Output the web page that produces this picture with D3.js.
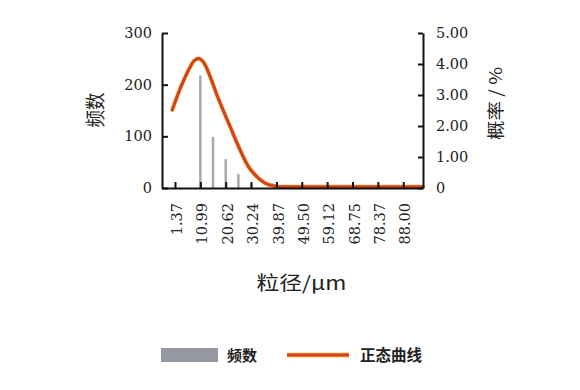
<!DOCTYPE html>
<html><head><meta charset="utf-8">
<script src="https://cdn.jsdelivr.net/npm/d3@7"></script>
<style>body{margin:0;background:#fff}</style>
</head><body>
<svg id="c" width="580" height="390"></svg>
<script>
const xTickValues = [1.37, 10.99, 20.62, 30.24, 39.87, 49.50, 59.12, 68.75, 78.37, 88.00];
const leftTicks = [0, 100, 200, 300];
const rightTicks = [0, 1, 2, 3, 4, 5];
const barX = [10.99, 15.81, 20.62, 25.43, 30.24];
const barCounts = [218, 99, 56, 27, 8];
const curveX = [0.34, 3.9, 7.1, 8.6, 10.4, 12.2, 14.7, 17.2, 19.7, 22.9, 25.4, 29.8, 35.5, 39.3, 45, 55, 70, 85, 95.5];
const curveP = [2.52, 3.32, 3.90, 4.10, 4.18, 4.06, 3.60, 3.02, 2.50, 1.86, 1.36, 0.62, 0.16, 0.06, 0.04, 0.04, 0.04, 0.04, 0.04];
const xTitle = "粒径/μm", yLeftTitle = "频数", yRightTitle = "概率 / %";
const legendBar = "频数", legendLine = "正态曲线";

const svg = d3.select("#c");
const L = 162, R = 423, T = 33, B = 188;
const x = d3.scaleLinear().domain([-3.56, 95.5]).range([L, R]);
const yL = d3.scaleLinear().domain([0, 300]).range([B, T]);
const yR = d3.scaleLinear().domain([0, 5]).range([B, T]);
const numFont = "'DejaVu Serif', serif";
const cjk = "'Noto Sans CJK SC', sans-serif";

// bars
svg.append("g").selectAll("rect").data(barX).join("rect")
  .attr("x", d => x(d) - 1.2).attr("width", 2.4)
  .attr("y", (d, i) => yL(barCounts[i])).attr("height", (d, i) => B - yL(barCounts[i]))
  .attr("fill", "#a6a6b0");

// curve
const pts = curveX.map((d, i) => [d, curveP[i]]);
const line = d3.line().x(d => x(d[0])).y(d => yR(d[1])).curve(d3.curveCatmullRom.alpha(0.5));
svg.append("path").attr("d", line(pts)).attr("fill", "none").attr("stroke", "#ea8a2c").attr("stroke-width", 4).attr("stroke-linecap", "round");
svg.append("path").attr("d", line(pts)).attr("fill", "none").attr("stroke", "#d0421a").attr("stroke-width", 2.6).attr("stroke-linecap", "round");

function styleAxis(g) {
  g.select(".domain").attr("stroke", "#111").attr("stroke-width", 2);
  g.selectAll(".tick line").attr("stroke", "#111").attr("stroke-width", 2);
  g.selectAll(".tick text").attr("fill", "#222").style("font-family", numFont).style("font-size", "14.5px");
}
// axes
const gx = svg.append("g").attr("transform", `translate(0,${B})`)
  .call(d3.axisBottom(x).tickValues(xTickValues).tickSize(-6).tickSizeOuter(0).tickFormat(d => d.toFixed(2)));
styleAxis(gx);
gx.selectAll(".tick text").attr("transform", "rotate(-90)").attr("text-anchor", "end")
  .attr("x", -15).attr("y", 1.5).attr("dy", "0.35em");

const gl = svg.append("g").attr("transform", `translate(${L},0)`)
  .call(d3.axisLeft(yL).tickValues(leftTicks).tickSize(-6).tickSizeOuter(0).tickPadding(10));
styleAxis(gl);
const gr = svg.append("g").attr("transform", `translate(${R},0)`)
  .call(d3.axisRight(yR).tickValues(rightTicks).tickSize(-5).tickSizeOuter(0).tickPadding(13)
    .tickFormat(d => d === 0 ? "0" : d.toFixed(2)));
styleAxis(gr);

// titles
svg.append("text").attr("x", 301.5).attr("y", 290).attr("text-anchor", "middle")
  .attr("textLength", 90).attr("lengthAdjust", "spacingAndGlyphs")
  .style("font-family", cjk).style("font-size", "19px").attr("fill", "#222").text(xTitle);
svg.append("text").attr("transform", "translate(103,110) rotate(-90) scale(1,1.15)")
  .attr("text-anchor", "middle").style("font-family", cjk).style("font-size", "17.5px").attr("fill", "#222").text(yLeftTitle);
svg.append("text").attr("transform", "translate(502,103.5) rotate(-90) scale(1,1.15)")
  .attr("text-anchor", "middle").attr("textLength", 73).attr("lengthAdjust", "spacingAndGlyphs")
  .style("font-family", cjk).style("font-size", "15px").attr("fill", "#222").text(yRightTitle);

// legend
svg.append("rect").attr("x", 161).attr("y", 348).attr("width", 57).attr("height", 14).attr("fill", "#9597a1");
svg.append("text").attr("x", 227).attr("y", 360.5).style("font-family", cjk).style("font-size", "15px")
  .style("font-weight", "bold").attr("fill", "#222").text(legendBar);
svg.append("line").attr("x1", 287).attr("x2", 349).attr("y1", 355).attr("y2", 355).attr("stroke", "#ea8a2c").attr("stroke-width", 4.5);
svg.append("line").attr("x1", 287).attr("x2", 349).attr("y1", 355).attr("y2", 355).attr("stroke", "#d0421a").attr("stroke-width", 2.6);
svg.append("text").attr("x", 360).attr("y", 360.5).style("font-family", cjk).style("font-size", "15.5px")
  .style("font-weight", "bold").attr("fill", "#222").text(legendLine);
</script>
</body></html>
